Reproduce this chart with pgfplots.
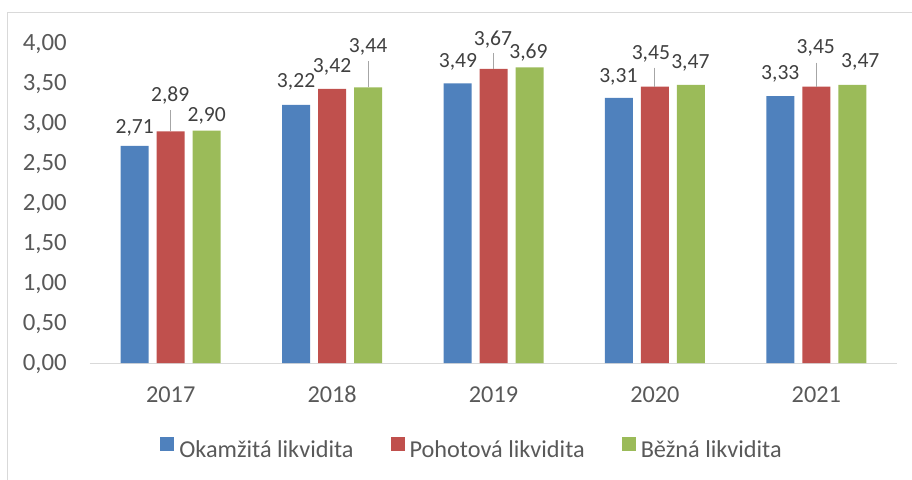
\documentclass[border=0pt]{standalone}
\usepackage{pgfplots}
\pgfplotsset{compat=1.18}
\usepackage{pgfplotstable}
\usepackage{fontspec}
\setmainfont{Carlito}
\definecolor{cblue}{HTML}{4F81BD}
\definecolor{cred}{HTML}{C0504D}
\definecolor{cgreen}{HTML}{9BBB59}
\definecolor{tickgrey}{HTML}{595959}
\definecolor{labgrey}{HTML}{404040}
\definecolor{framegrey}{HTML}{D9D9D9}
\definecolor{leadgrey}{HTML}{A6A6A6}

% x = year index, y = value, dy = label centre above bar top (px), dx = label x offset (px), err = leader length
\pgfplotstableread{
x y dy dx err
0 2.71 18.7 0 0
1 3.22 24.5 0 0
2 3.49 22.5 0.5 0
3 3.31 22.5 -0.5 0
4 3.33 23.5 0 0
}\okam
\pgfplotstableread{
x y dy dx err
0 2.89 36.5 -0.5 0.262
1 3.42 23.5 0 0
2 3.67 30.5 -0.5 0.20
3 3.45 34 -4 0.237
4 3.45 39.5 -0.5 0.30
}\poho
\pgfplotstableread{
x y dy dx err
0 2.90 15.5 0 0
1 3.44 41.5 0 0.325
2 3.69 16 -1 0
3 3.47 23.5 -0.5 0
4 3.47 24 8 0
}\bezna

\begin{document}
\begin{tikzpicture}
\begin{axis}[
  scale only axis, width=605.25pt, height=240.4pt,
  at={(0,0)}, anchor=south west,
  xmin=-0.5, xmax=4.5, ymin=0, ymax=4,
  ybar=0pt, bar width=21pt,
  axis x line*=bottom, axis y line*=left,
  x axis line style={framegrey, line width=0.75pt},
  y axis line style={draw=none},
  major tick length=0pt,
  xtick={0,1,2,3,4}, xticklabels={2017,2018,2019,2020,2021},
  ytick={0,0.5,1,1.5,2,2.5,3,3.5,4},
  /pgf/number format/.cd, fixed, fixed zerofill, precision=2, use comma, assume math mode=true,
  /pgfplots/.cd,
  xticklabel style={font=\fontsize{18.2}{21}\selectfont, text=tickgrey, anchor=base, inner sep=0pt, yshift=-29.25pt},
  yticklabel style={font=\fontsize{18.6}{21}\selectfont, text=tickgrey, anchor=base east, inner sep=0pt, xshift=-17.25pt, yshift=-5.9pt},
  legend columns=3,
  legend style={at={(0.473,-0.268)}, anchor=center, draw=none, fill=none,
    font=\fontsize{18.2}{21}\selectfont, text=tickgrey,
    nodes={inner sep=1pt},
    /tikz/every odd column/.append style={column sep=2.75pt},
    /tikz/every even column/.append style={column sep=26.75pt}},
  legend image code/.code={\path[#1, draw=none] (0pt,0pt) rectangle (10.5pt,10.5pt);},
  lab/.style={
    draw=none,
    visualization depends on={\thisrow{dy} \as \labdy},
    visualization depends on={\thisrow{dx} \as \labdx},
    nodes near coords,
    every node near coord/.append style={anchor=base, inner sep=0pt, text=labgrey,
      font=\fontsize{16.2}{19}\selectfont,
      yshift={(\labdy-6.8)*0.75pt}, xshift={\labdx*0.75pt}},
    error bars/y dir=plus, error bars/y explicit, error bars/error mark=none,
    error bars/error bar style={leadgrey, line width=0.75pt},
  },
]
\addplot[lab, fill=cblue, bar shift=-27pt] table[x=x, y=y, y error=err] {\okam};
\addplot[lab, fill=cred, bar shift=0pt] table[x=x, y=y, y error=err] {\poho};
\addplot[lab, fill=cgreen, bar shift=27pt] table[x=x, y=y, y error=err] {\bezna};
\legend{Okamžitá likvidita, Pohotová likvidita, Běžná likvidita}
\end{axis}
\draw[framegrey, line width=0.75pt] (-61.5pt,-90pt) -- (-61.5pt,262.5pt) -- (620pt,262.5pt);
\pgfresetboundingbox
\useasboundingbox (-67.5pt,-87pt) rectangle (616.5pt,272.25pt);
\end{tikzpicture}
\end{document}
